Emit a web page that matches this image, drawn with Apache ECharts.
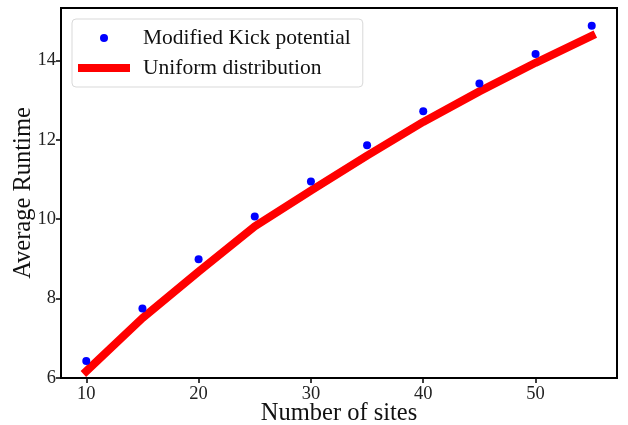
<!DOCTYPE html>
<html>
<head>
<meta charset="utf-8">
<script src="https://cdn.jsdelivr.net/npm/echarts@6/dist/echarts.min.js"></script>
<style>
  html, body { margin: 0; padding: 0; background: #fff; }
  #chart { width: 628px; height: 425px; }
</style>
</head>
<body>
<div id="chart"></div>
<script>
// number of sites
const sites = [10, 15, 20, 25, 30, 35, 40, 45, 50, 55]
// measured runtimes (blue dots)
const kickRuntime = [6.43, 7.75, 8.99, 10.07, 10.95, 11.86, 12.72, 13.42, 14.16, 14.87]
// uniform distribution (red line)
const uniformRuntime = [6.17, 7.51, 8.68, 9.82, 10.72, 11.6, 12.45, 13.22, 13.94, 14.62]
const xTicks = [10, 20, 30, 40, 50]
const yTicks = [6, 8, 10, 12, 14]

const serif = '"Liberation Serif", "DejaVu Serif", serif'

const chart = echarts.init(document.getElementById('chart'), null, { renderer: 'canvas' })

const option = {
  animation: false,
  backgroundColor: '#fff',
  grid: {
    left: 61, right: 11, top: 8, bottom: 47,
    outerBoundsMode: 'none',
    containLabel: false,
    show: true,
    borderColor: '#000',
    borderWidth: 2,
    backgroundColor: 'transparent'
  },
  legend: {
    orient: 'vertical',
    left: 72,
    top: 19,
    padding: [8, 12, 8, 6],
    itemGap: 8,
    itemWidth: 52,
    itemHeight: 8,
    backgroundColor: '#fff',
    borderColor: '#d9d9d9',
    borderWidth: 1,
    borderRadius: 4,
    textStyle: { fontFamily: serif, fontSize: 21.5, color: '#111', padding: [0, 0, 0, 8] },
    data: [
      { name: 'Modified Kick potential', icon: 'circle' },
      { name: 'Uniform distribution', icon: 'rect' }
    ]
  },
  xAxis: {
    type: 'value',
    min: 7.75,
    max: 57.25,
    interval: 10,
    name: 'Number of sites',
    nameLocation: 'middle',
    nameMoveOverlap: false,
    nameGap: 23,
    nameTextStyle: { fontFamily: serif, fontSize: 24.5, color: '#111' },
    splitLine: { show: false },
    axisLine: { show: true, onZero: false, lineStyle: { color: '#000', width: 2 } },
    axisTick: {
      show: true, length: 5, inside: false,
      lineStyle: { color: '#000', width: 1.5 },
      customValues: xTicks
    },
    axisLabel: {
      fontFamily: serif, fontSize: 18.5, color: '#222', margin: 7,
      customValues: xTicks
    }
  },
  yAxis: {
    type: 'value',
    min: 6,
    max: 15.32,
    name: 'Average Runtime',
    nameLocation: 'middle',
    nameMoveOverlap: false,
    nameGap: 25,
    nameTextStyle: { fontFamily: serif, fontSize: 24.5, color: '#111' },
    splitLine: { show: false },
    axisLine: { show: true, onZero: false, lineStyle: { color: '#000', width: 2 } },
    axisTick: {
      show: true, length: 5, inside: false,
      lineStyle: { color: '#000', width: 1.5 },
      customValues: yTicks
    },
    axisLabel: {
      fontFamily: serif, fontSize: 18.5, color: '#222', margin: 5,
      customValues: yTicks
    }
  },
  series: [
    {
      name: 'Modified Kick potential',
      type: 'scatter',
      symbol: 'circle',
      symbolSize: 8,
      itemStyle: { color: '#0000ff', opacity: 1 },
      data: sites.map((s, i) => [s, kickRuntime[i]]),
      z: 3
    },
    {
      name: 'Uniform distribution',
      type: 'line',
      symbol: 'none',
      showSymbol: false,
      itemStyle: { color: '#ff0000' },
      lineStyle: { color: '#ff0000', width: 8, cap: 'square' },
      data: sites.map((s, i) => [s, uniformRuntime[i]]),
      z: 2
    }
  ]
}

chart.setOption(option)
</script>
</body>
</html>
